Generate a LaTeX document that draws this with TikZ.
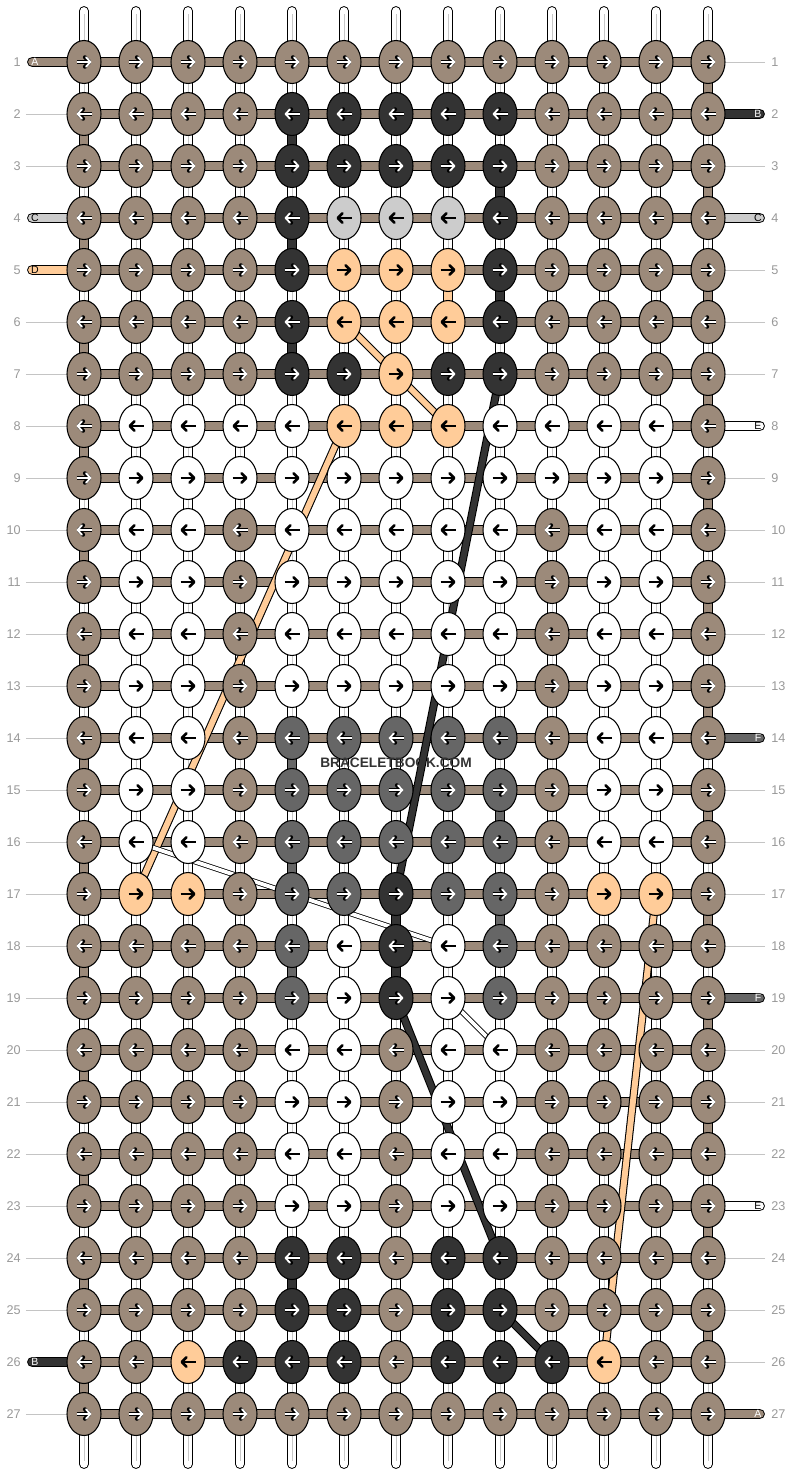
\documentclass[tikz,border=0pt]{standalone}
\usepackage{fontspec}
\setmainfont{Liberation Sans}
\usetikzlibrary{arrows.meta,shapes.geometric,backgrounds}

\definecolor{kT}{HTML}{9C8A7A}
\definecolor{kK}{HTML}{333333}
\definecolor{kL}{HTML}{CCCCCC}
\definecolor{kP}{HTML}{FFCC99}
\definecolor{kW}{HTML}{FFFFFF}
\definecolor{kG}{HTML}{666666}
\definecolor{numgray}{HTML}{999999}
\definecolor{guidegray}{HTML}{C4C4C4}

\newif\ifdarkknot

\tikzset{
  knot/.style={ellipse, draw=black, line width=0.6pt, minimum width=0.68cm, minimum height=0.86cm, inner sep=0pt},
  warp/.style={draw=black, line width=0.6pt, double=white, double distance=4.4pt, line cap=round},
  warpmid/.style={draw=black!22, line width=0.5pt},
  bar/.style={draw=black, line width=0.6pt, double=#1, double distance=5pt},
  stub/.style={draw=black, line width=0.6pt, double=#1, double distance=5pt, line cap=round},
  carry/.style={draw=black, line width=0.6pt, double=#1, double distance=3.4pt},
  thincarry/.style={draw=black, line width=0.45pt, double=#1, double distance=2.2pt},
  arrout/.style={draw=black, line width=2.3pt, -{Straight Barb[length=2.6pt,width=5.4pt,round]}},
  arrin/.style={draw=white, line width=1.1pt, -{Straight Barb[length=2.6pt,width=5.4pt,round]}},
  arrblk/.style={draw=black, line width=1.5pt, -{Straight Barb[length=2.6pt,width=5.4pt,round]}},
  rownum/.style={text=numgray, font=\fontsize{7.2}{8}\selectfont, inner sep=0pt},
  guide/.style={draw=guidegray, line width=0.5pt},
  letter/.style={font=\fontsize{6}{7}\selectfont, inner sep=0pt},
}

\begin{document}
\begin{tikzpicture}[x=0.02cm, y=-0.02cm]
    \useasboundingbox (0,0) rectangle (792,1476);

    % knots, one row per line
    \foreach \row [count=\ri] in {
        {T,T,T,T,T,T,T,T,T,T,T,T,T},
        {T,T,T,T,K,K,K,K,K,T,T,T,T},
        {T,T,T,T,K,K,K,K,K,T,T,T,T},
        {T,T,T,T,K,L,L,L,K,T,T,T,T},
        {T,T,T,T,K,P,P,P,K,T,T,T,T},
        {T,T,T,T,K,P,P,P,K,T,T,T,T},
        {T,T,T,T,K,K,P,K,K,T,T,T,T},
        {T,W,W,W,W,P,P,P,W,W,W,W,T},
        {T,W,W,W,W,W,W,W,W,W,W,W,T},
        {T,W,W,T,W,W,W,W,W,T,W,W,T},
        {T,W,W,T,W,W,W,W,W,T,W,W,T},
        {T,W,W,T,W,W,W,W,W,T,W,W,T},
        {T,W,W,T,W,W,W,W,W,T,W,W,T},
        {T,W,W,T,G,G,G,G,G,T,W,W,T},
        {T,W,W,T,G,G,G,G,G,T,W,W,T},
        {T,W,W,T,G,G,G,G,G,T,W,W,T},
        {T,P,P,T,G,G,K,G,G,T,P,P,T},
        {T,T,T,T,G,W,K,W,G,T,T,T,T},
        {T,T,T,T,G,W,K,W,G,T,T,T,T},
        {T,T,T,T,W,W,T,W,W,T,T,T,T},
        {T,T,T,T,W,W,T,W,W,T,T,T,T},
        {T,T,T,T,W,W,T,W,W,T,T,T,T},
        {T,T,T,T,W,W,T,W,W,T,T,T,T},
        {T,T,T,T,K,K,T,K,K,T,T,T,T},
        {T,T,T,T,K,K,T,K,K,T,T,T,T},
        {T,T,P,K,K,K,T,K,K,K,P,T,T},
        {T,T,T,T,T,T,T,T,T,T,T,T,T}} {
        \foreach \k [count=\ci] in \row {
            \pgfmathsetmacro\kx{32+52*\ci}
            \pgfmathsetmacro\ky{10+52*\ri}
            \node[knot, fill=k\k] (k-\ri-\ci) at (\kx,\ky) {};
            % arrow: right on odd rows, left on even rows
            \pgfmathsetmacro\xa{\kx-ifthenelse(mod(\ri,2)==1,7.5,-7.5)}
            \pgfmathsetmacro\xb{\kx+ifthenelse(mod(\ri,2)==1,7.5,-7.5)}
            \darkknotfalse
            \if\k T\darkknottrue\fi
            \if\k K\darkknottrue\fi
            \if\k G\darkknottrue\fi
            \ifdarkknot
                \draw[arrout] (\xa,\ky) -- (\xb,\ky);
                \draw[arrin] (\xa,\ky) -- (\xb,\ky);
            \else
                \draw[arrblk] (\xa,\ky) -- (\xb,\ky);
            \fi
        }
    }

    % row numbers
    \foreach \ri in {1,...,27} {
        \node[rownum, anchor=east] (nl-\ri) at (21,10+52*\ri) {\ri};
        \node[rownum, anchor=west] (nr-\ri) at (771,10+52*\ri) {\ri};
    }

    % string letters at the loose ends
    \foreach \ri/\lab/\lc in {1/A/white, 4/C/black, 5/D/black, 26/B/white}
        \node[letter, text=\lc] (sl-\ri) at (35,10+52*\ri) {\lab};
    \foreach \ri/\lab/\lc in {2/B/white, 4/C/black, 8/E/black, 14/F/white, 19/F/white, 23/E/black, 27/A/white}
        \node[letter, text=\lc] (sr-\ri) at (758,10+52*\ri) {\lab};

    \node[font=\bfseries\fontsize{7.8}{9}\selectfont, text=kK] (mark) at (396,763) {BRACELETBOOK.COM};

    \begin{scope}[on background layer]
        \fill[white] (0,0) rectangle (792,1476);

        % warp strings
        \foreach \ci in {1,...,13} {
            \draw[warp] ([yshift=1.02cm]k-1-\ci.center) -- ([yshift=-1.0cm]k-27-\ci.center);
            \draw[warpmid] ([yshift=0.96cm]k-1-\ci.center) -- ([yshift=-0.94cm]k-27-\ci.center);
        }

        % background string along each row
        \foreach \ri in {1,...,27}
            \draw[bar=kT] (k-\ri-1.center) -- (k-\ri-13.center);

        % turns of the knotting strings
        \foreach \ri in {1,3,...,25} {
            \pgfmathtruncatemacro\rn{\ri+1}
            \draw[bar=kT] (k-\ri-13.center) -- (k-\rn-13.center);
        }
        \foreach \ri in {2,4,...,26} {
            \pgfmathtruncatemacro\rn{\ri+1}
            \draw[bar=kT] (k-\ri-1.center) -- (k-\rn-1.center);
        }
        \foreach \ci/\ri/\col in {5/2/kK, 9/3/kK, 5/4/kK, 9/5/kK, 5/6/kK, 7/17/kK, 7/18/kK, 5/24/kK,
                                  8/5/kP, 5/14/kG, 9/15/kG, 5/16/kG, 9/17/kG, 5/18/kG} {
            \pgfmathtruncatemacro\rn{\ri+1}
            \draw[bar=\col] (k-\ri-\ci.center) -- (k-\rn-\ci.center);
        }

        % carried strings
        \draw[carry=kP] (k-6-6.center) -- (k-7-7.center) -- (k-8-8.center);
        \draw[carry=kP] (k-8-6.center) -- (k-17-2.center);
        \draw[carry=kP] (k-17-12.center) -- (k-26-11.center);
        \draw[carry=kK] (k-7-9.center) -- (k-17-7.center);
        \draw[carry=kK] (k-19-7.center) -- (k-24-9.center);
        \draw[carry=kK] (k-25-9.center) -- (k-26-10.center);
        \draw[thincarry=white] (k-16-2.center) -- (k-18-8.center);
        \draw[thincarry=white] (k-19-8.center) -- (k-20-9.center);

        % loose ends
        \foreach \ri/\col in {1/kT, 4/kL, 5/kP, 26/kK}
            \draw[stub=\col] (k-\ri-1.center) -- ([xshift=-0.05cm]sl-\ri.center);
        \foreach \ri/\col in {2/kK, 4/kL, 8/kW, 14/kG, 19/kG, 23/kW, 27/kT}
            \draw[stub=\col] (k-\ri-13.center) -- ([xshift=0.03cm]sr-\ri.center);

        % guide lines to the row numbers
        \foreach \ri in {2,3,6,7,...,25,27}
            \draw[guide] ([xshift=0.1cm]nl-\ri.east) -- (k-\ri-1.center);
        \foreach \ri in {1,3,5,6,7,9,10,...,13,15,16,17,18,20,21,22,24,25,26}
            \draw[guide] ([xshift=-0.12cm]nr-\ri.west) -- (k-\ri-13.center);
    \end{scope}
\end{tikzpicture}
\end{document}
